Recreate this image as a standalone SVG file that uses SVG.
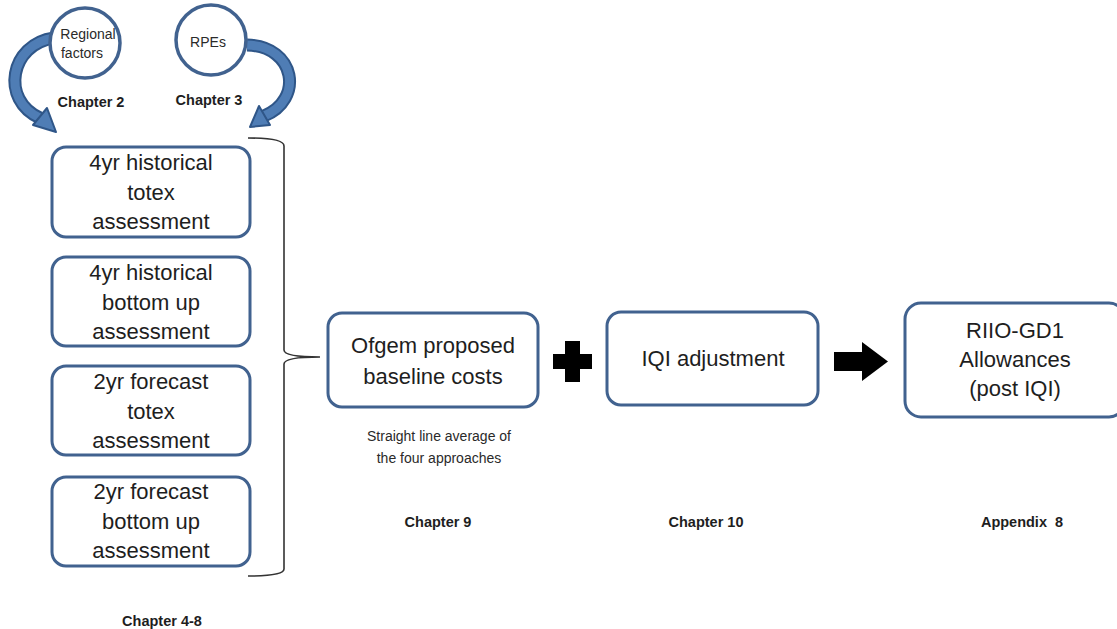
<svg xmlns="http://www.w3.org/2000/svg" width="1117" height="629" viewBox="0 0 1117 629">
<style>
.box{fill:#fff;stroke:#41628f;stroke-width:3}
.circ{fill:#fff;stroke:#41628f;stroke-width:3.5}
.t{font-family:"Liberation Sans",Arial,sans-serif;font-size:22px;fill:#1e1e1e;text-anchor:middle}
.s{font-family:"Liberation Sans",Arial,sans-serif;font-size:14px;fill:#2a2a2a;text-anchor:middle}
.c{font-family:"Liberation Sans",Arial,sans-serif;font-size:14.5px;font-weight:bold;fill:#1e1e1e;text-anchor:middle}
.arcO{fill:none;stroke:#2f5688;stroke-width:13}
.arcI{fill:none;stroke:#4f7db5;stroke-width:9}
.head{fill:#4f7db5;stroke:#2f5688;stroke-width:2;stroke-linejoin:round}
</style>
<rect width="1117" height="629" fill="#fff"/>
<g id="connectors">
<g id="arrow-regional">
<path class="arcO" d="M54,38 C10,44 0,100 40,118"/>
<path class="arcI" d="M54,38 C10,44 0,100 40,118"/>
<polygon class="head" points="33,125 47,108 56,132"/>
</g>
<g id="arrow-rpes">
<path class="arcO" d="M247,45 C296,46 304,100 264,116"/>
<path class="arcI" d="M247,45 C296,46 304,100 264,116"/>
<polygon class="head" points="259,106 270,125 250,127"/>
</g>
<path id="brace" d="M248,138 Q284,138 284,146 L284,350 Q284,357 320,357 Q284,357 284,364 L284,569 Q284,576 248,576" fill="none" stroke="#333" stroke-width="1.6"/>
<path id="plus" d="M565,341 H580 V354 H592 V369 H580 V382 H565 V369 H553 V354 H565 Z" fill="#000"/>
<path id="arrow" d="M834,352 H862 V342 L888,361.5 L862,381 V371 H834 Z" fill="#000"/>
</g>
<g id="node-regional">
<circle class="circ" cx="85" cy="43" r="35"/>
<text class="s" x="88" y="39">Regional</text>
<text class="s" x="82" y="58">factors</text>
</g>
<g id="node-rpes">
<circle class="circ" cx="211" cy="40" r="35"/>
<text class="s" x="208" y="47">RPEs</text>
</g>
<text class="c" x="91" y="107">Chapter 2</text>
<text class="c" x="209" y="105">Chapter 3</text>
<g id="node-hist-totex">
<rect class="box" x="52" y="147" width="198" height="90" rx="14"/>
<text class="t" x="151" y="170">4yr historical</text>
<text class="t" x="151" y="200">totex</text>
<text class="t" x="151" y="229">assessment</text>
</g>
<g id="node-hist-bottom">
<rect class="box" x="52" y="257" width="198" height="89" rx="14"/>
<text class="t" x="151" y="280">4yr historical</text>
<text class="t" x="151" y="310">bottom up</text>
<text class="t" x="151" y="339">assessment</text>
</g>
<g id="node-fc-totex">
<rect class="box" x="52" y="366" width="198" height="89" rx="14"/>
<text class="t" x="151" y="389">2yr forecast</text>
<text class="t" x="151" y="419">totex</text>
<text class="t" x="151" y="448">assessment</text>
</g>
<g id="node-fc-bottom">
<rect class="box" x="52" y="477" width="198" height="89" rx="14"/>
<text class="t" x="151" y="499">2yr forecast</text>
<text class="t" x="151" y="529">bottom up</text>
<text class="t" x="151" y="558">assessment</text>
</g>
<text class="c" x="162" y="626">Chapter 4-8</text>
<g id="node-ofgem">
<rect class="box" x="328" y="313" width="210" height="94" rx="14"/>
<text class="t" x="433" y="353">Ofgem proposed</text>
<text class="t" x="433" y="384">baseline costs</text>
</g>
<text class="s" x="439" y="441">Straight line average of</text>
<text class="s" x="439" y="463">the four approaches</text>
<text class="c" x="438" y="527">Chapter 9</text>
<g id="node-iqi">
<rect class="box" x="607" y="312" width="211" height="93" rx="14"/>
<text class="t" x="713" y="366">IQI adjustment</text>
</g>
<text class="c" x="706" y="527">Chapter 10</text>
<g id="node-riio">
<rect class="box" x="905" y="303" width="220" height="114" rx="16"/>
<text class="t" x="1015" y="338">RIIO-GD1</text>
<text class="t" x="1015" y="367">Allowances</text>
<text class="t" x="1015" y="396">(post IQI)</text>
</g>
<text class="c" x="1022" y="527" xml:space="preserve">Appendix  8</text>
</svg>
